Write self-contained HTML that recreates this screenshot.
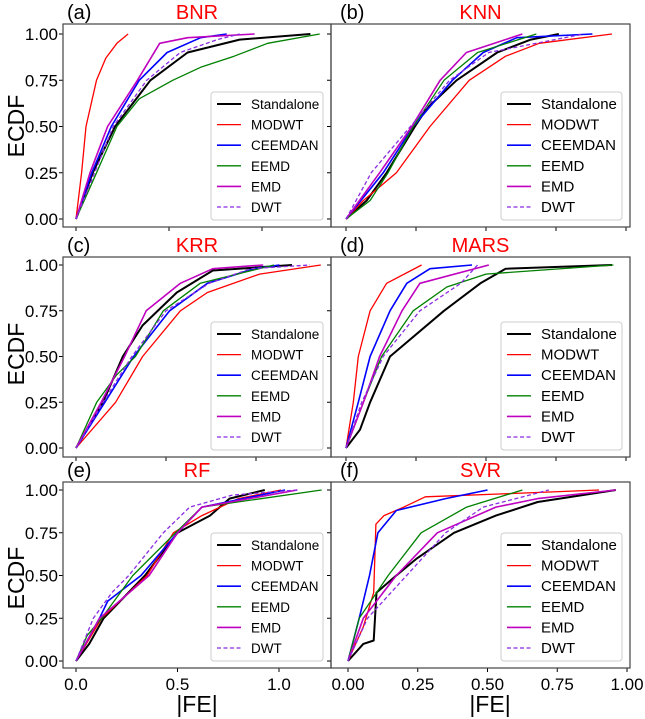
<!DOCTYPE html>
<html><head><meta charset="utf-8">
<style>
html,body{margin:0;padding:0;background:#fff;}
svg{display:block;font-family:"Liberation Sans","DejaVu Sans",sans-serif;}
</style></head>
<body>
<svg id="chart" width="645" height="719" viewBox="0 0 645 719" xmlns="http://www.w3.org/2000/svg"></svg>
<script>
const seriesNames = ["Standalone","MODWT","CEEMDAN","EEMD","EMD","DWT"];
const panelIds = ["a","b","c","d","e","f"];
const panelTitles = ["BNR","KNN","KRR","MARS","RF","SVR"];
const yTickValues = [0,0.25,0.5,0.75,1.0];
const yTickLabels = ["0.00","0.25","0.50","0.75","1.00"];
const xTicksLeft = [0,0.5,1.0];
const xTickLabelsLeft = ["0.0","0.5","1.0"];
const xTicksRight = [0,0.25,0.5,0.75,1.0];
const xTickLabelsRight = ["0.00","0.25","0.50","0.75","1.00"];

// (a) BNR
const aStdP=[0,.25,.5,.75,.9,.97,1], aStdX=[0,.09,.21,.40,.60,.88,1.26];
const aModP=[0,.25,.5,.75,.87,.95,1], aModX=[0,.03,.054,.11,.16,.22,.28];
const aCeeP=[0,.25,.5,.75,.9,.98,1], aCeeX=[0,.085,.19,.34,.49,.67,.81];
const aEemP=[0,.25,.5,.65,.75,.82,.88,.95,1], aEemX=[0,.11,.22,.34,.52,.67,.85,1.03,1.31];
const aEmdP=[0,.25,.5,.75,.95,.98,1], aEmdX=[0,.075,.17,.33,.45,.60,.96];
const aDwtP=[0,.25,.5,.75,.9,.97,1], aDwtX=[0,.10,.20,.38,.56,.76,.88];
// (b) KNN
const bStdP=[0,.1,.25,.5,.6,.75,.9,.97,1], bStdX=[0,.074,.145,.246,.29,.395,.54,.66,.76];
const bModP=[0,.1,.25,.5,.75,.88,.95,1], bModX=[0,.062,.18,.30,.44,.57,.69,.95];
const bCeeP=[0,.25,.5,.75,.9,.98,1], bCeeX=[0,.133,.24,.38,.49,.61,.88];
const bEemP=[0,.1,.25,.5,.75,.9,1], bEemX=[0,.086,.15,.24,.35,.47,.68];
const bEmdP=[0,.25,.5,.75,.9,1], bEmdX=[0,.12,.235,.336,.43,.63];
const bDwtP=[0,.25,.5,.75,.9,1], bDwtX=[0,.09,.23,.37,.51,.85];
// (c) KRR
const cStdP=[0,.25,.5,.67,.85,.97,1], cStdX=[0,.15,.26,.37,.56,.76,1.2];
const cModP=[0,.25,.5,.75,.85,.95,1], cModX=[0,.22,.37,.58,.73,1.02,1.36];
const cCeeP=[0,.25,.5,.75,.9,.98,1], cCeeX=[0,.16,.32,.52,.73,.99,1.13];
const cEemP=[0,.25,.4,.5,.75,.9,1], cEemX=[0,.115,.226,.33,.485,.69,1.1];
const cEmdP=[0,.25,.5,.75,.9,.98,1], cEmdX=[0,.14,.27,.39,.58,.76,1.04];
const cDwtP=[0,.25,.5,.75,.9,.98,1], cDwtX=[0,.15,.31,.50,.74,.97,1.3];
// (d) MARS
const dStdP=[0,.1,.25,.5,.75,.9,.98,1], dStdX=[0,.05,.086,.157,.35,.48,.57,.95];
const dModP=[0,.25,.5,.75,.9,1], dModX=[0,.026,.044,.086,.145,.27];
const dCeeP=[0,.25,.5,.75,.9,.98,1], dCeeX=[0,.044,.086,.157,.217,.30,.45];
const dEemP=[0,.25,.5,.75,.88,.95,1], dEemX=[0,.062,.127,.24,.36,.50,.955];
const dEmdP=[0,.25,.5,.75,.9,1], dEmdX=[0,.062,.12,.20,.264,.51];
const dDwtP=[0,.25,.5,.75,.9,1], dDwtX=[0,.056,.133,.264,.41,.47];
// (e) RF
const eStdP=[0,.1,.25,.5,.75,.85,.95,1], eStdX=[0,.065,.136,.34,.50,.66,.756,.93];
const eModP=[0,.25,.5,.75,.85,.95,1], eModX=[0,.126,.35,.48,.62,.80,1.01];
const eCeeP=[0,.25,.35,.5,.75,.9,1], eCeeX=[0,.116,.156,.32,.50,.62,1.03];
const eEemP=[0,.15,.25,.5,.75,.9,1], eEemX=[0,.055,.126,.28,.49,.62,1.21];
const eEmdP=[0,.25,.5,.75,.9,1], eEmdX=[0,.116,.36,.50,.62,1.09];
const eDwtP=[0,.25,.4,.5,.75,.9,.97,1], eDwtX=[0,.085,.177,.26,.43,.56,.77,1.09];
// (f) SVR
const fStdP=[0,.1,.12,.4,.5,.6,.75,.85,.93,1], fStdX=[0,.055,.092,.102,.173,.247,.38,.53,.68,.96];
const fModP=[0,.2,.4,.8,.85,.9,.96,.98,1], fModX=[0,.055,.092,.10,.129,.20,.277,.6,.9];
const fCeeP=[0,.25,.5,.75,.88,.95,1], fCeeX=[0,.04,.077,.107,.173,.35,.50];
const fEemP=[0,.25,.5,.75,.9,1], fEemX=[0,.04,.144,.262,.425,.625];
const fEmdP=[0,.25,.5,.75,.9,.95,1], fEmdX=[0,.055,.173,.32,.53,.68,.96];
const fDwtP=[0,.25,.5,.75,.9,1], fDwtX=[0,.07,.21,.35,.485,.72];

const panelSeries = {
 a:[[aStdP,aStdX],[aModP,aModX],[aCeeP,aCeeX],[aEemP,aEemX],[aEmdP,aEmdX],[aDwtP,aDwtX]],
 b:[[bStdP,bStdX],[bModP,bModX],[bCeeP,bCeeX],[bEemP,bEemX],[bEmdP,bEmdX],[bDwtP,bDwtX]],
 c:[[cStdP,cStdX],[cModP,cModX],[cCeeP,cCeeX],[cEemP,cEemX],[cEmdP,cEmdX],[cDwtP,cDwtX]],
 d:[[dStdP,dStdX],[dModP,dModX],[dCeeP,dCeeX],[dEemP,dEemX],[dEmdP,dEmdX],[dDwtP,dDwtX]],
 e:[[eStdP,eStdX],[eModP,eModX],[eCeeP,eCeeX],[eEemP,eEemX],[eEmdP,eEmdX],[eDwtP,eDwtX]],
 f:[[fStdP,fStdX],[fModP,fModX],[fCeeP,fCeeX],[fEemP,fEemX],[fEmdP,fEmdX],[fDwtP,fDwtX]]
};

const colors=["#000000","#ff0000","#0000ff","#008000","#bf00bf","#8a2be2"];
const widths=[2,1.3,1.6,1.3,1.6,1.3];
const layout={
 a:{L:63,R:331,T:24,B:227,y1:34,y0:219,x0:76,ppu:186,col:0},
 b:{L:331,R:630,T:24,B:227,y1:34,y0:219,x0:346,ppu:280,col:1},
 c:{L:63,R:331,T:257,B:457,y1:265,y0:448,x0:76,ppu:180,col:0},
 d:{L:331,R:630,T:257,B:457,y1:265,y0:448,x0:346,ppu:280,col:1},
 e:{L:63,R:331,T:482,B:668,y1:490,y0:661,x0:76,ppu:203,col:0},
 f:{L:331,R:630,T:482,B:668,y1:490,y0:661,x0:348,ppu:279,col:1}
};
const NS="http://www.w3.org/2000/svg";
const svg=document.getElementById("chart");
function mk(tag,attrs,parent){const e=document.createElementNS(NS,tag);for(const k in attrs)e.setAttribute(k,attrs[k]);(parent||svg).appendChild(e);return e;}

panelIds.forEach((id,pi)=>{
 const g=layout[id];
 const xs=v=>g.x0+v*g.ppu;
 const ys=p=>g.y0-p*(g.y0-g.y1);
 const grp=mk("g",{});
 
 
 const lbl=mk("text",{x:g.col?340:67,y:g.T-5,"font-size":20,fill:"#000"},grp);
 lbl.textContent="("+id+")";
 
 
 const tt=mk("text",{x:(g.L+g.R)/2,y:g.T-5,"font-size":20,fill:"#ff0000","text-anchor":"middle"},grp);
 tt.textContent=panelTitles[pi];
 
 
 yTickValues.forEach((v,i)=>{
  mk("line",{x1:g.L-4,x2:g.L,y1:ys(v),y2:ys(v),stroke:"#000","stroke-width":1},grp);
  if(g.col===0){
   const t=mk("text",{x:g.L-5,y:ys(v)+6,"font-size":17,"text-anchor":"end",fill:"#000"},grp);
   t.textContent=yTickLabels[i];
   
   
  }
 });
 const xt=g.col?xTicksRight:xTicksLeft, xl=g.col?xTickLabelsRight:xTickLabelsLeft;
 xt.forEach((v,i)=>{
  if(xs(v)>g.R)return;
  mk("line",{x1:xs(v),x2:xs(v),y1:g.B,y2:g.B+4,stroke:"#000","stroke-width":1},grp);
  if(id==="e"||id==="f"){
   const t=mk("text",{x:xs(v),y:g.B+22,"font-size":17,"text-anchor":"middle",fill:"#000"},grp);
   t.textContent=xl[i];
   
   
  }
 });
 panelSeries[id].forEach((s,si)=>{
  const [P,X]=s;
  const pts=P.map((p,k)=>xs(X[k]).toFixed(1)+","+ys(p).toFixed(1)).join(" ");
  const pl=mk("polyline",{points:pts,fill:"none",stroke:colors[si],"stroke-width":widths[si],"stroke-linejoin":"round"},grp);
  if(si===5)pl.setAttribute("stroke-dasharray","4,2.5");
  
  
 });
 mk("rect",{x:g.L,y:g.T,width:g.R-g.L,height:g.B-g.T,fill:"none",stroke:"#444","stroke-width":1.2},grp);
 const lw=g.col?121:112, lh=128;
 const lx=g.R-8-lw, ly=g.B-7-lh;
 const lg=mk("g",{},grp);
 
 
 mk("rect",{x:lx,y:ly,width:lw,height:lh,rx:3,fill:"#fff",stroke:"#ccc","stroke-width":1},lg);
 seriesNames.forEach((n,si)=>{
  const yy=ly+12+si*20.6;
  const ln=mk("line",{x1:lx+6,x2:lx+30,y1:yy,y2:yy,stroke:colors[si],"stroke-width":widths[si]},lg);
  if(si===5)ln.setAttribute("stroke-dasharray","4,2.5");
  const t=mk("text",{x:lx+40,y:yy+5,"font-size":g.col?15:13.5,fill:"#000"},lg);
  t.textContent=n;
  
  
 });
});
[126,354,578].forEach(cy=>{
 const t=mk("text",{x:0,y:0,"font-size":23,"text-anchor":"middle",fill:"#000",transform:"translate(24,"+cy+") rotate(-90)"});
 t.textContent="ECDF";
 
 
});
[197,490].forEach(cx=>{
 const t=mk("text",{x:cx,y:712,"font-size":23,"text-anchor":"middle",fill:"#000"});
 t.textContent="|FE|";
 
 
});
</script>
</body></html>
